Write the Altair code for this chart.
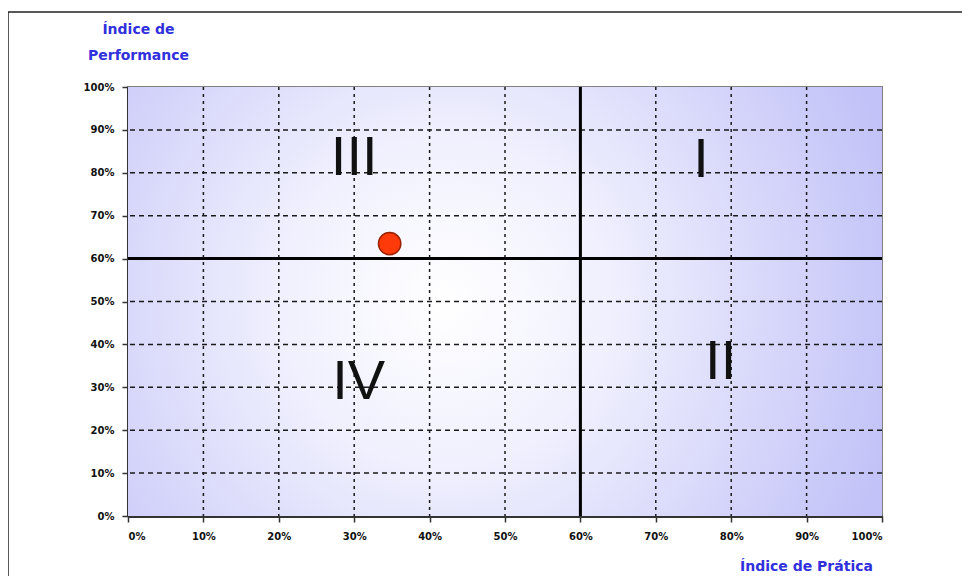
import altair as alt
import pandas as pd

# ---- data ----
tick_values = [0, 0.1, 0.2, 0.3, 0.4, 0.5, 0.6, 0.7, 0.8, 0.9, 1.0]
point_x = [0.347]          # Índice de Prática
point_y = [0.635]          # Índice de Performance
quad_x = [0.60]            # vertical quadrant divider
quad_y = [0.60]            # horizontal quadrant divider
quad_labels = ["III", "I", "IV", "II"]
quad_label_x = [0.30, 0.76, 0.306, 0.786]
quad_label_y = [0.834, 0.83, 0.312, 0.359]

W, H = 754, 429
FONT = "DejaVu Sans"
BLUE = "#3030dd"

xscale = alt.Scale(domain=[0, 1], nice=False, zero=False)
yscale = alt.Scale(domain=[0, 1], nice=False, zero=False)

xaxis = alt.Axis(
    values=tick_values, format=".0%", grid=False,
    title="Índice de Prática",
    titleX=678, titleY=54, titleAlign="center",
    titleBaseline="alphabetic", labelPadding=9,
)
yaxis = alt.Axis(
    values=tick_values, format=".0%", grid=False,
    title=["Índice de", "Performance"],
    titleAngle=0, titleX=10, titleY=-54, titleAlign="center",
    titleBaseline="alphabetic", titleLineHeight=26, labelPadding=8,
)

bg_df = pd.DataFrame({"x0": [0.0], "x1": [1.0], "y0": [0.0], "y1": [1.0]})
grid_df = pd.DataFrame({"v": tick_values[1:-1]})
pt_df = pd.DataFrame({"x": point_x, "y": point_y})
qx_df = pd.DataFrame({"x": quad_x})
qy_df = pd.DataFrame({"y": quad_y})
lab_df = pd.DataFrame({"lab": quad_labels, "x": quad_label_x, "y": quad_label_y})

gradient = {
    "gradient": "radial",
    "x1": 0.42, "y1": 0.5, "r1": 0.0,
    "x2": 0.42, "y2": 0.5, "r2": 0.62,
    "stops": [
        {"offset": 0.0, "color": "#ffffff"},
        {"offset": 0.35, "color": "#f0f0fe"},
        {"offset": 1.0, "color": "#c2c2f8"},
    ],
}

background = alt.Chart(bg_df).mark_rect(color=gradient).encode(
    x=alt.X("x0:Q", scale=xscale, axis=xaxis),
    x2="x1:Q",
    y=alt.Y("y0:Q", scale=yscale, axis=yaxis),
    y2="y1:Q",
)

vgrid = alt.Chart(grid_df).mark_rule(
    color="#1a1a1a", strokeWidth=1.5, strokeDash=[3, 4]
).encode(x=alt.X("v:Q", scale=xscale, axis=xaxis))
hgrid = alt.Chart(grid_df).mark_rule(
    color="#1a1a1a", strokeWidth=1.5, strokeDash=[5, 4]
).encode(y=alt.Y("v:Q", scale=yscale, axis=yaxis))

frame = alt.Chart(bg_df).mark_rect(
    filled=False, stroke="#222222", strokeWidth=1.5
).encode(
    x=alt.value(-120), x2=alt.value(1100),
    y=alt.value(-75), y2=alt.value(900),
)

vrule = alt.Chart(qx_df).mark_rule(color="#000000", strokeWidth=3).encode(
    x=alt.X("x:Q", scale=xscale, axis=xaxis)
)
hrule = alt.Chart(qy_df).mark_rule(color="#000000", strokeWidth=3).encode(
    y=alt.Y("y:Q", scale=yscale, axis=yaxis)
)

labels = alt.Chart(lab_df).mark_text(
    font="Liberation Sans", fontSize=56, color="#111111",
    align="center", baseline="middle",
).encode(
    x=alt.X("x:Q", scale=xscale, axis=xaxis),
    y=alt.Y("y:Q", scale=yscale, axis=yaxis),
    text="lab:N",
)

point = alt.Chart(pt_df).mark_point(
    filled=True, shape="circle", size=500, fill="#ff3a0a",
    stroke="#992000", strokeWidth=1.5, opacity=1,
).encode(
    x=alt.X("x:Q", scale=xscale, axis=xaxis),
    y=alt.Y("y:Q", scale=yscale, axis=yaxis),
)

chart = alt.layer(background, vgrid, hgrid, hrule, vrule, labels, point, frame).properties(
    width=W, height=H,
    padding={"left": 120, "top": 79, "right": 80, "bottom": 60},
    autosize=alt.AutoSizeParams(type="none"),
    background="#ffffff",
).configure_view(
    stroke="#808080", strokeWidth=2
).configure_axis(
    labelFont=FONT, labelFontWeight="bold", labelFontSize=10, labelColor="#111111",
    titleFont=FONT, titleFontWeight="bold", titleFontSize=14, titleColor=BLUE,
    domainColor="#333333", domainWidth=3,
    tickColor="#333333", tickSize=6, tickWidth=1.5,
)

chart.save("out.html", embed_options={"renderer": "svg", "actions": False})
